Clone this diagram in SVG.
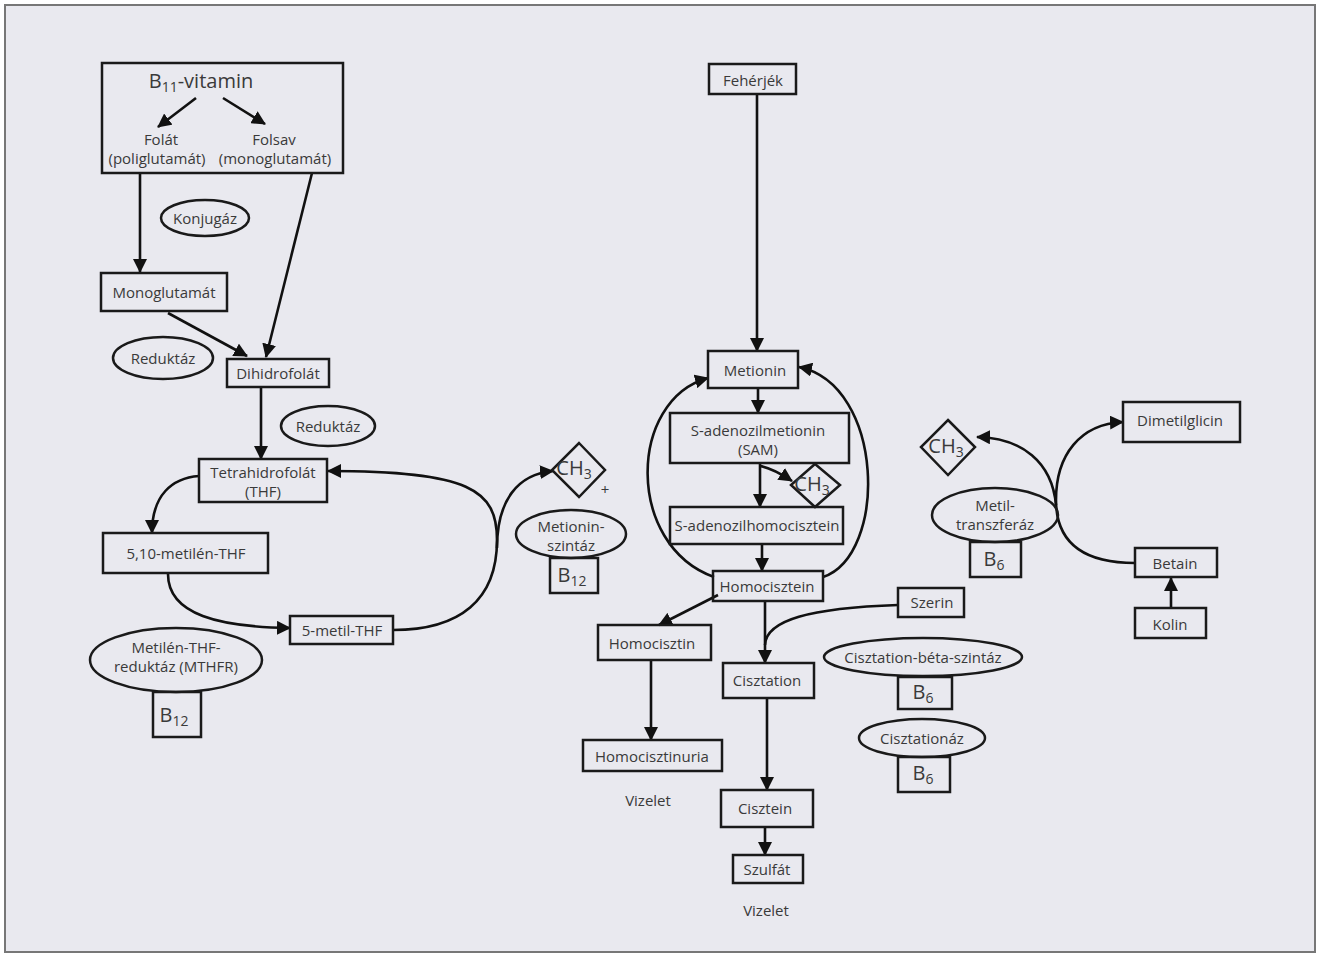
<svg xmlns="http://www.w3.org/2000/svg" width="1324" height="954" viewBox="0 0 1324 954">
<defs>
<marker id="ah" markerUnits="userSpaceOnUse" markerWidth="14" markerHeight="14" refX="13" refY="7" orient="auto" viewBox="0 0 14 14">
<path d="M0,0 L14,7 L0,14 z" fill="#111"/>
</marker>
</defs>
<style>
.bx{fill:none;stroke:#1a1a1a;stroke-width:2.5}
.el{fill:none;stroke:#1a1a1a;stroke-width:2.5}
.t{font-family:"Open Sans","Noto Sans",sans-serif;font-size:15px;fill:#3a3a3a;text-anchor:middle;dominant-baseline:central}
.big{font-size:20px}
.c{fill:none;stroke:#111;stroke-width:2.6;marker-end:url(#ah)}
.n{fill:none;stroke:#111;stroke-width:2.6}
</style>
<rect x="0" y="0" width="1324" height="954" fill="#ffffff"/>
<rect x="5" y="5" width="1310" height="947" fill="#e9e9ef" stroke="#777" stroke-width="2"/>

<g id="connectors">
<path class="c" d="M196,98 L158,127"/>
<path class="c" d="M223,98 L265,124"/>
<path class="c" d="M140,173 L140,272"/>
<path class="c" d="M312,173 L266,357"/>
<path class="c" d="M168,313 L247,356"/>
<path class="c" d="M261,387 L261,459"/>
<path class="c" d="M199,476 C172,478 152,495 152,533"/>
<path class="c" d="M168,574 C168,615 220,627 290,628"/>
<path class="c" d="M393,630 C460,630 497,600 497,540 C497,490 470,471 328,471"/>
<path class="c" d="M497,548 C497,500 518,474 553,471"/>
<path class="c" d="M757,94 L757,351"/>
<path class="c" d="M758,388 L758,413"/>
<path class="c" d="M760,463 L760,507"/>
<path class="c" d="M760,466 Q772,468 792,481"/>
<path class="c" d="M762,544 L762,571"/>
<path class="c" d="M714,577 C625,545 628,400 708,378"/>
<path class="c" d="M823,577 C888,555 885,385 799,367"/>
<path class="c" d="M718,595 L659,625"/>
<path class="c" d="M651,660 L651,740"/>
<path class="c" d="M765,601 L765,663"/>
<path class="n" d="M898,605 C810,608 766,620 765,645"/>
<path class="c" d="M767,698 L767,790"/>
<path class="c" d="M765,827 L765,855"/>
<path class="c" d="M1171,608 L1171,578"/>
<path class="c" d="M1135,563 C1080,563 1056,540 1056,500 C1056,455 1080,424 1123,422"/>
<path class="c" d="M1056,505 C1052,462 1022,438 977,437"/>
</g>

<g id="b11">
<rect class="bx" x="102" y="63" width="241" height="110"/>
<text class="t big" x="201" y="80">B<tspan font-size="14" dy="6">11</tspan><tspan dy="-6">-vitamin</tspan></text>
<text class="t" x="161" y="139">Folát</text>
<text class="t" x="274" y="139">Folsav</text>
<text class="t" x="157" y="158">(poliglutamát)</text>
<text class="t" x="275" y="158">(monoglutamát)</text>
</g>
<g id="konjugaz"><ellipse class="el" cx="205" cy="218" rx="44" ry="18"/><text class="t" x="205" y="218">Konjugáz</text></g>
<g id="monoglutamat"><rect class="bx" x="101" y="273" width="126" height="38"/><text class="t" x="164" y="292">Monoglutamát</text></g>
<g id="reduktaz1"><ellipse class="el" cx="163" cy="358" rx="50" ry="21"/><text class="t" x="163" y="358">Reduktáz</text></g>
<g id="dihidrofolat"><rect class="bx" x="227" y="359" width="102" height="28"/><text class="t" x="278" y="373">Dihidrofolát</text></g>
<g id="reduktaz2"><ellipse class="el" cx="328" cy="426" rx="47" ry="20"/><text class="t" x="328" y="426">Reduktáz</text></g>
<g id="thf"><rect class="bx" x="199" y="459" width="128" height="43"/><text class="t" x="263" y="472">Tetrahidrofolát</text><text class="t" x="263" y="491">(THF)</text></g>
<g id="metilenthf"><rect class="bx" x="103" y="533" width="165" height="40"/><text class="t" x="186" y="553">5,10-metilén-THF</text></g>
<g id="metilthf"><rect class="bx" x="290" y="616" width="103" height="28"/><text class="t" x="342" y="630">5-metil-THF</text></g>
<g id="mthfr"><ellipse class="el" cx="176" cy="660" rx="86" ry="32"/><text class="t" x="176" y="647">Metilén-THF-</text><text class="t" x="176" y="666">reduktáz (MTHFR)</text></g>
<g id="b12a"><rect class="bx" x="153" y="692" width="48" height="45"/><text class="t big" x="174" y="714">B<tspan font-size="14" dy="6">12</tspan></text></g>
<g id="ch3a"><path class="bx" d="M579,443 L605,470 L579,497 L552,470 z"/><text class="t big" x="574" y="467">CH<tspan font-size="14" dy="6">3</tspan></text><text class="t" x="605" y="489">+</text></g>
<g id="metioninszintaz"><ellipse class="el" cx="571" cy="534" rx="55" ry="24"/><text class="t" x="571" y="526">Metionin-</text><text class="t" x="571" y="545">szintáz</text></g>
<g id="b12b"><rect class="bx" x="550" y="558" width="48" height="35"/><text class="t big" x="572" y="574">B<tspan font-size="14" dy="6">12</tspan></text></g>

<g id="feherjek"><rect class="bx" x="709" y="64" width="87" height="30"/><text class="t" x="753" y="80">Fehérjék</text></g>
<g id="metionin"><rect class="bx" x="708" y="351" width="90" height="37"/><text class="t" x="755" y="370">Metionin</text></g>
<g id="sam"><rect class="bx" x="670" y="413" width="179" height="50"/><text class="t" x="758" y="430">S-adenozilmetionin</text><text class="t" x="758" y="449">(SAM)</text></g>
<g id="ch3b"><path class="bx" d="M815,464 L840,485 L815,507 L791,485 z"/><text class="t big" x="812" y="483">CH<tspan font-size="14" dy="6">3</tspan></text></g>
<g id="sah"><rect class="bx" x="670" y="507" width="173" height="37"/><text class="t" x="757" y="525">S-adenozilhomocisztein</text></g>
<g id="homocisztein"><rect class="bx" x="713" y="571" width="110" height="30"/><text class="t" x="767" y="586">Homocisztein</text></g>
<g id="homocisztin"><rect class="bx" x="598" y="625" width="113" height="35"/><text class="t" x="652" y="643">Homocisztin</text></g>
<g id="homocisztinuria"><rect class="bx" x="583" y="740" width="139" height="31"/><text class="t" x="652" y="756">Homocisztinuria</text></g>
<g id="vizelet1"><text class="t" x="648" y="800">Vizelet</text></g>
<g id="szerin"><rect class="bx" x="898" y="588" width="66" height="29"/><text class="t" x="932" y="602">Szerin</text></g>
<g id="cisztation"><rect class="bx" x="723" y="663" width="91" height="35"/><text class="t" x="767" y="680">Cisztation</text></g>
<g id="cbs"><ellipse class="el" cx="923" cy="657" rx="99" ry="19"/><text class="t" x="923" y="657">Cisztation-béta-szintáz</text></g>
<g id="b6a"><rect class="bx" x="898" y="677" width="54" height="32"/><text class="t big" x="923" y="691">B<tspan font-size="14" dy="6">6</tspan></text></g>
<g id="cisztationaz"><ellipse class="el" cx="922" cy="738" rx="63" ry="19"/><text class="t" x="922" y="738">Cisztationáz</text></g>
<g id="b6b"><rect class="bx" x="898" y="757" width="52" height="35"/><text class="t big" x="923" y="772">B<tspan font-size="14" dy="6">6</tspan></text></g>
<g id="cisztein"><rect class="bx" x="721" y="790" width="92" height="37"/><text class="t" x="765" y="808">Cisztein</text></g>
<g id="szulfat"><rect class="bx" x="733" y="855" width="70" height="28"/><text class="t" x="767" y="869">Szulfát</text></g>
<g id="vizelet2"><text class="t" x="766" y="910">Vizelet</text></g>

<g id="dimetilglicin"><rect class="bx" x="1123" y="402" width="117" height="40"/><text class="t" x="1180" y="420">Dimetilglicin</text></g>
<g id="ch3c"><path class="bx" d="M948,420 L975,447 L948,475 L921,447 z"/><text class="t big" x="946" y="445">CH<tspan font-size="14" dy="6">3</tspan></text></g>
<g id="metiltranszferaz"><ellipse class="el" cx="995" cy="515" rx="63" ry="27"/><text class="t" x="995" y="505">Metil-</text><text class="t" x="995" y="524">transzferáz</text></g>
<g id="b6c"><rect class="bx" x="970" y="542" width="51" height="35"/><text class="t big" x="994" y="558">B<tspan font-size="14" dy="6">6</tspan></text></g>
<g id="betain"><rect class="bx" x="1135" y="548" width="82" height="29"/><text class="t" x="1175" y="563">Betain</text></g>
<g id="kolin"><rect class="bx" x="1135" y="608" width="71" height="30"/><text class="t" x="1170" y="624">Kolin</text></g>
</svg>
